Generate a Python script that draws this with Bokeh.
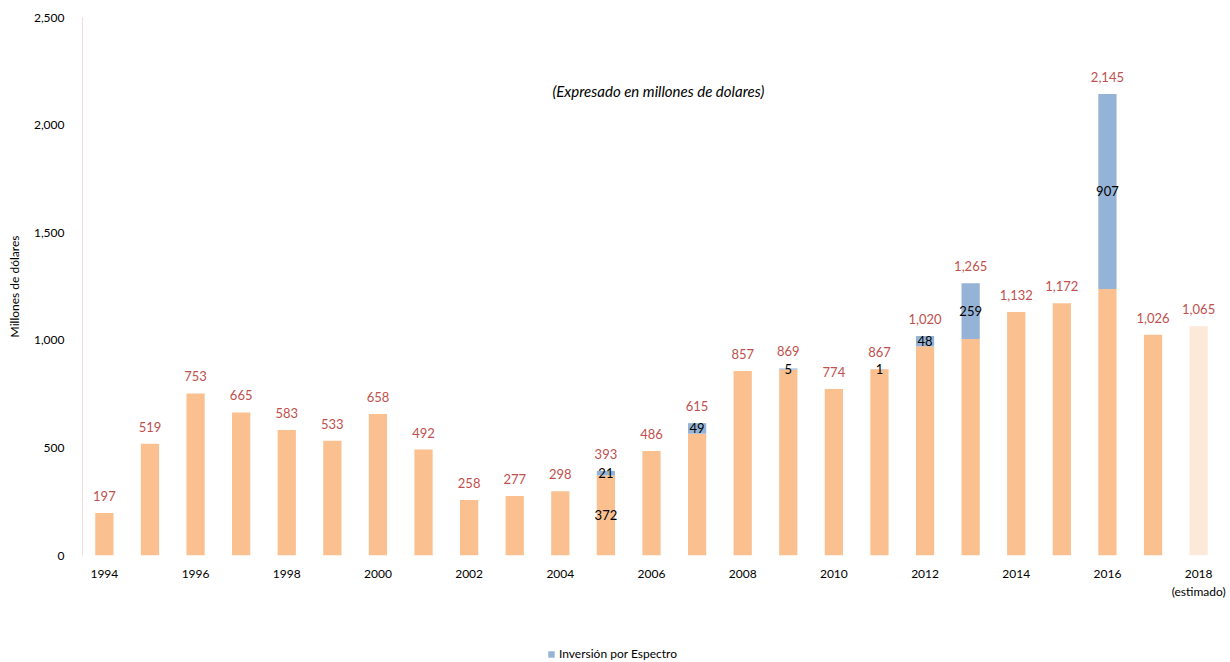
from bokeh.plotting import figure
from bokeh.layouts import column
from bokeh.models import (ColumnDataSource, Range1d, FixedTicker, NumeralTickFormatter, Label,
                          Legend, LegendItem)
from bokeh.embed import file_html
from bokeh.resources import INLINE
from bokeh.core.properties import value

years = list(range(1994, 2019))
totals = [197, 519, 753, 665, 583, 533, 658, 492, 258, 277, 298, 393, 486, 615,
          857, 869, 774, 867, 1020, 1265, 1132, 1172, 2145, 1026, 1065]
spec_years = [2005, 2007, 2009, 2011, 2012, 2013, 2016]
spec_vals = [21, 49, 5, 1, 48, 259, 907]
base_label_years = [2005]
base_label_vals = [372]
x_tick_years = list(range(1994, 2019, 2))
y_ticks = [0, 500, 1000, 1500, 2000, 2500]

FONT = "Lato"
ORANGE = "#FAC090"
LIGHT = "#FDE9D9"
BLUE = "#95B3D7"
RED = "#C0504D"

spec_map = dict(zip(spec_years, spec_vals))
base = [t - spec_map.get(y, 0) for y, t in zip(years, totals)]
colors = [LIGHT if y == 2018 else ORANGE for y in years]

MAIN_H = 630
p = figure(width=1230, height=MAIN_H, output_backend="svg", toolbar_location=None,
           x_range=Range1d(1993.52, 2018.48), y_range=Range1d(0, 2500),
           min_border_left=82, min_border_right=10, min_border_top=17,
           min_border_bottom=MAIN_H - 555)
p.outline_line_color = None
p.xgrid.visible = False
p.ygrid.visible = False

src_base = ColumnDataSource(dict(x=years, top=base, color=colors))
p.vbar(x="x", top="top", bottom=0, width=0.4, fill_color="color", line_color=None, source=src_base)

spec_bottom = [base[years.index(y)] for y in spec_years]
spec_top = [totals[years.index(y)] for y in spec_years]
src_spec = ColumnDataSource(dict(x=spec_years, bottom=spec_bottom, top=spec_top,
                                 mid=[(b + t) / 2 for b, t in zip(spec_bottom, spec_top)],
                                 lab=[str(v) for v in spec_vals]))
p.vbar(x="x", top="top", bottom="bottom", width=0.4, fill_color=BLUE, line_color=None, source=src_spec)

src_tot = ColumnDataSource(dict(x=years, y=totals, lab=[f"{t:,}" for t in totals]))
p.text(x="x", y="y", text="lab", source=src_tot, text_align="center", text_baseline="bottom",
       y_offset=-12, text_color=RED, text_font=value(FONT), text_font_size="13px")

p.text(x="x", y="mid", text="lab", source=src_spec, text_align="center", text_baseline="middle",
       text_color="black", text_font=value(FONT), text_font_size="13px")

src_bl = ColumnDataSource(dict(x=base_label_years,
                               y=[v / 2 for v in base_label_vals],
                               lab=[str(v) for v in base_label_vals]))
p.text(x="x", y="y", text="lab", source=src_bl, text_align="center", text_baseline="middle",
       text_color="black", text_font=value(FONT), text_font_size="13px")

p.add_layout(Label(x=2006.15, y=2160, text="(Expresado en millones de dolares)",
                   text_align="center", text_baseline="middle", text_font=FONT,
                   text_font_style="italic", text_font_size="15px", text_color="black"))

# axes
p.yaxis.ticker = FixedTicker(ticks=y_ticks)
p.yaxis.formatter = NumeralTickFormatter(format="0,0")
p.yaxis.axis_line_color = "#F2DCDB"
p.yaxis.major_tick_line_color = None
p.yaxis.minor_tick_line_color = None
p.yaxis.major_label_standoff = 12
p.yaxis.major_label_text_font = FONT
p.yaxis.major_label_text_font_size = "12px"
p.yaxis.major_label_text_color = "black"
p.yaxis.axis_label = "Millones de dólares"
p.yaxis.axis_label_text_font = FONT
p.yaxis.axis_label_text_font_style = "normal"
p.yaxis.axis_label_text_font_size = "12px"
p.yaxis.axis_label_text_color = "black"
p.yaxis.axis_label_standoff = 9

p.xaxis.ticker = FixedTicker(ticks=x_tick_years)
p.xaxis.major_label_overrides = {2018: "2018\n(estimado)"}
p.xaxis.axis_line_color = None
p.xaxis.major_tick_line_color = None
p.xaxis.minor_tick_line_color = None
p.xaxis.major_label_standoff = 4
p.xaxis.major_label_text_font = FONT
p.xaxis.major_label_text_font_size = "12px"
p.xaxis.major_label_text_color = "black"

# legend strip below the chart
LEG_H = 662 - MAIN_H
p2 = figure(width=1230, height=LEG_H, output_backend="svg", toolbar_location=None,
            x_range=Range1d(0, 1), y_range=Range1d(0, 1),
            x_axis_location=None, y_axis_location=None,
            min_border_left=0, min_border_right=0, min_border_top=0, min_border_bottom=0)
p2.outline_line_color = None
p2.xgrid.visible = False
p2.ygrid.visible = False
# legend-only renderer: its single bar lies outside the visible range
r_leg = p2.vbar(x=[-10], top=[-10], bottom=[-11], width=0.4, fill_color=BLUE, line_color=None)
legend = Legend(items=[LegendItem(label="Inversión por Espectro", renderers=[r_leg])],
                orientation="horizontal", location=(465, 1), border_line_color=None,
                background_fill_alpha=0,
                label_text_font=FONT, label_text_font_size="12px", label_text_color="black",
                glyph_width=8, glyph_height=8, padding=0, margin=0, label_standoff=4,
                label_height=14)
p2.add_layout(legend, "center")

layout = column(p, p2, spacing=0)
open("out.html", "w").write(file_html(layout, INLINE))
